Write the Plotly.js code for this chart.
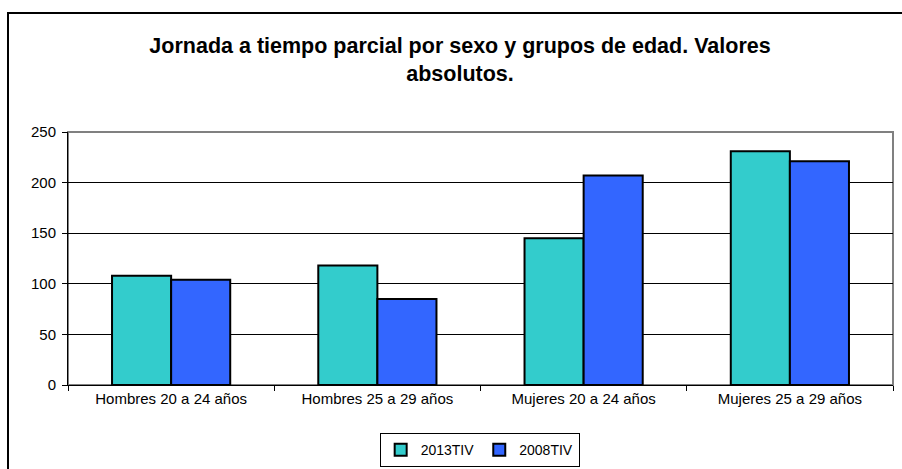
<!DOCTYPE html>
<html>
<head>
<meta charset="utf-8">
<script src="https://cdn.plot.ly/plotly-3.0.1.min.js"></script>
<style>
  html, body { margin: 0; padding: 0; background: #fff; }
  #wrap { position: relative; width: 902px; height: 469px; overflow: hidden; }
  #chart { position: absolute; left: 0; top: 0; width: 902px; height: 469px; }
  #frame { position: absolute; left: 7px; top: 12px; width: 1200px; height: 1200px;
           border-left: 2px solid #000; border-top: 2px solid #000; pointer-events: none; }
</style>
</head>
<body>
<div id="wrap">
  <div id="chart"></div>
  <div id="frame"></div>
</div>
<script>
const categories = ["Hombres 20 a 24 años", "Hombres 25 a 29 años", "Mujeres 20 a 24 años", "Mujeres 25 a 29 años"];
const seriesNames = ["2013TIV", "2008TIV"];
const values2013 = [108, 118, 145, 231];
const values2008 = [104, 85, 207, 221];
const yTicks = [0, 50, 100, 150, 200, 250];

const font = "Arial, 'Liberation Sans', sans-serif";

const traces = [
  {
    type: "bar", name: seriesNames[0], x: categories, y: values2013,
    marker: { color: "#33CCCC", line: { color: "#000", width: 2 } }
  },
  {
    type: "bar", name: seriesNames[1], x: categories, y: values2008,
    marker: { color: "#3366FF", line: { color: "#000", width: 2 } }
  }
];

const layout = {
  width: 902, height: 469,
  margin: { l: 68, r: 9, t: 132, b: 84, pad: 0 },
  paper_bgcolor: "rgba(0,0,0,0)",
  plot_bgcolor: "#fff",
  font: { family: font, size: 15, color: "#000" },
  title: {
    text: "<b>Jornada a tiempo parcial por sexo y grupos de edad. Valores<br>absolutos.</b>",
    font: { family: font, size: 21.5, color: "#000" },
    x: 0.51, xanchor: "center", y: 0.887, yanchor: "top"
  },
  barmode: "group",
  bargap: 0.427,
  bargroupgap: 0,
  showlegend: true,
  legend: {
    orientation: "h", x: 0.499, xanchor: "center",
    yref: "container", y: 0.004, yanchor: "bottom",
    bordercolor: "#000", borderwidth: 1, bgcolor: "#fff",
    font: { family: font, size: 14, color: "#000" },
    itemwidth: 30
  },
  xaxis: {
    type: "category",
    showgrid: false,
    showline: true, linecolor: "#000", linewidth: 1,
    ticks: "outside", tickson: "boundaries", ticklen: 5, tickcolor: "#000",
    tickfont: { family: font, size: 15, color: "#000" },
    automargin: false,
    fixedrange: true
  },
  yaxis: {
    range: [0, 250],
    tickvals: yTicks,
    showgrid: true, gridcolor: "#000", gridwidth: 1,
    showline: true, linecolor: "#000", linewidth: 1,
    ticks: "outside", ticklen: 5, tickcolor: "#000",
    ticklabelstandoff: 3,
    tickfont: { family: font, size: 15, color: "#000" },
    zeroline: false,
    automargin: false,
    fixedrange: true
  },
  shapes: [
    { type: "rect", xref: "paper", yref: "paper", x0: 0, x1: 1, y0: 0, y1: 1,
      line: { color: "#808080", width: 2 }, layer: "below" }
  ]
};

Plotly.newPlot("chart", traces, layout, { displayModeBar: false, staticPlot: true });
</script>
</body>
</html>
